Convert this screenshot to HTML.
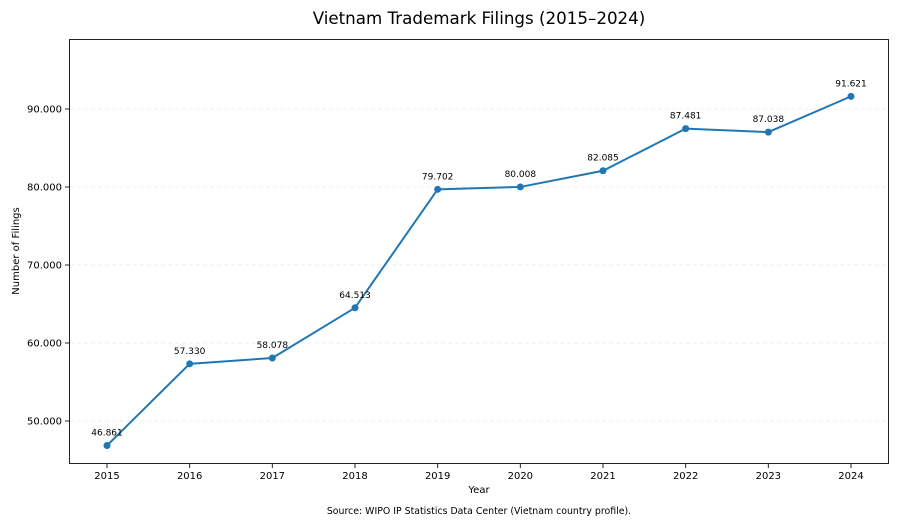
<!DOCTYPE html>
<html><head><meta charset="utf-8">
<style>
body{margin:0;background:#fff;font-family:"DejaVu Sans","Liberation Sans",sans-serif;}
svg{display:block;font-family:"DejaVu Sans","Liberation Sans",sans-serif;}
</style></head>
<body>
<svg id="chart" width="900" height="525" viewBox="0 0 900 525">
<text x="479" y="24" font-size="16.7" text-anchor="middle" fill="#000">Vietnam Trademark Filings (2015–2024)</text>
<g id="grid"></g>
<rect x="69.5" y="39.5" width="819" height="424" fill="none" stroke="#222" stroke-width="1"/>
<g id="axes"></g>
<g id="series"></g>
<text x="479" y="493" font-size="10" text-anchor="middle">Year</text>
<text transform="translate(19,251) rotate(-90)" font-size="10" text-anchor="middle">Number of Filings</text>
<text x="479" y="514" font-size="9.4" text-anchor="middle">Source: WIPO IP Statistics Data Center (Vietnam country profile).</text>
</svg>
<script>
const years = [2015,2016,2017,2018,2019,2020,2021,2022,2023,2024];
const filings = [46861,57330,58078,64513,79702,80008,82085,87481,87038,91621];
const yTicks = [50000,60000,70000,80000,90000];
const yTickLabels = ["50.000","60.000","70.000","80.000","90.000"];
const valueLabels = ["46.861","57.330","58.078","64.513","79.702","80.008","82.085","87.481","87.038","91.621"];

const NS="http://www.w3.org/2000/svg";
function xs(yr){return 107+(yr-2015)*(851-107)/9;}
function ys(v){return 421-(v-50000)*78/10000;}
function mk(tag,attrs,parent){const e=document.createElementNS(NS,tag);for(const k in attrs)e.setAttribute(k,attrs[k]);parent.appendChild(e);return e;}
const grid=document.getElementById('grid'),axes=document.getElementById('axes'),series=document.getElementById('series');
yTicks.forEach((t,i)=>{
  const y=ys(t);
  const g=mk('line',{x1:70,x2:888,y1:y,y2:y,stroke:'#e8e8e8','stroke-dasharray':'4,3','stroke-width':0.8},grid);
  
  
  const tk=mk('line',{x1:65,x2:69,y1:y,y2:y,stroke:'#222'},axes);
  
  
  const tx=mk('text',{x:62,y:y+3.5,'font-size':10,'text-anchor':'end'},axes);
  tx.textContent=yTickLabels[i];
  
  
});
years.forEach(yr=>{
  const x=xs(yr);
  const tk=mk('line',{x1:x,x2:x,y1:464,y2:468,stroke:'#222'},axes);
  
  
  const tx=mk('text',{x:x,y:479,'font-size':10,'text-anchor':'middle'},axes);
  tx.textContent=yr;
  
  
});
const pts=years.map((yr,i)=>xs(yr)+','+ys(filings[i])).join(' ');
const line=mk('polyline',{points:pts,fill:'none',stroke:'#1f77b4','stroke-width':2},series);


years.forEach((yr,i)=>{
  const c=mk('circle',{cx:xs(yr),cy:ys(filings[i]),r:3.5,fill:'#1f77b4'},series);
  
  
  const t=mk('text',{x:xs(yr),y:ys(filings[i])-10,'font-size':9,'text-anchor':'middle'},series);
  t.textContent=valueLabels[i];
  
  
});
</script>
</body></html>
